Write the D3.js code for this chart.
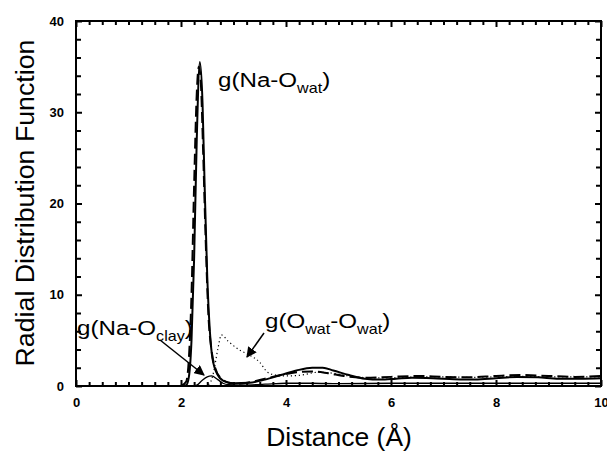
<!DOCTYPE html>
<html>
<head>
<meta charset="utf-8">
<script src="https://cdn.jsdelivr.net/npm/d3@7"></script>
<style>
  body { margin: 0; background: #fff; }
  text { font-family: "Liberation Sans", Arial, sans-serif; }
</style>
</head>
<body>
<svg id="chart" width="607" height="451"></svg>
<script>
// g(Na-O_wat), solid
const naOwat = [
  [2.0, 0], [2.1, 0.1], [2.15, 1], [2.2, 5], [2.25, 14], [2.3, 27], [2.36, 35.5],
  [2.41, 31], [2.45, 22], [2.5, 12], [2.55, 6], [2.6, 3], [2.7, 1.2], [2.8, 0.6],
  [3.0, 0.3], [3.3, 0.35], [3.6, 0.7], [3.9, 1.2], [4.2, 1.7], [4.5, 2.0], [4.7, 2.0],
  [4.9, 1.7], [5.2, 1.2], [5.5, 0.8], [5.8, 0.7], [6.1, 0.8], [6.4, 0.9], [6.8, 0.85],
  [7.2, 0.75], [7.6, 0.7], [8.0, 0.85], [8.4, 1.0], [8.8, 0.95], [9.2, 0.8], [9.6, 0.8], [10, 0.85]
];
// second run, long dashed
const naOwatDash = [
  [2.0, 0], [2.1, 0.5], [2.15, 3], [2.2, 10], [2.25, 22], [2.3, 32], [2.34, 35],
  [2.38, 33], [2.42, 26], [2.47, 16], [2.52, 8], [2.58, 4], [2.65, 2], [2.75, 0.9],
  [2.9, 0.4], [3.1, 0.25], [3.3, 0.4], [3.6, 0.8], [3.9, 1.2], [4.2, 1.5], [4.5, 1.6],
  [4.8, 1.4], [5.1, 1.1], [5.5, 0.9], [6.0, 1.0], [6.5, 1.1], [7.0, 1.0], [7.5, 0.95],
  [8.0, 1.1], [8.5, 1.2], [9.0, 1.1], [9.5, 1.0], [10, 1.1]
];
// g(Na-O_clay), thin solid
const naOclay = [
  [2.2, 0], [2.3, 0.1], [2.4, 0.6], [2.5, 1.0], [2.58, 1.1], [2.7, 0.7], [2.8, 0.3],
  [2.9, 0.15], [3.2, 0.1], [3.6, 0.2], [4.0, 0.3], [4.5, 0.3], [5.0, 0.25], [6.0, 0.3],
  [7.0, 0.3], [8.0, 0.3], [9.0, 0.3], [10, 0.3]
];
// g(O_wat-O_wat), dotted
const oOwat = [
  [2.45, 0], [2.55, 0.3], [2.62, 1.5], [2.7, 4], [2.77, 5.6], [2.9, 4.9], [3.1, 4.0],
  [3.3, 3.4], [3.5, 2.6], [3.65, 1.5], [3.8, 1.2], [4.0, 1.1], [4.3, 1.2], [4.6, 1.5],
  [4.9, 1.4], [5.2, 1.1], [5.6, 0.9], [6.0, 0.9], [6.5, 1.0], [7.0, 1.0], [7.5, 0.95],
  [8.0, 1.0], [8.5, 1.05], [9.0, 1.0], [9.5, 1.0], [10, 1.0]
];

const xTicks = [0, 2, 4, 6, 8, 10];
const yTicks = [0, 10, 20, 30, 40];

const svg = d3.select('#chart');
const mLeft = 76, mRight = 601, mTop = 21, mBottom = 386;

const x = d3.scaleLinear().domain([0, 10]).range([mLeft, mRight]);
const y = d3.scaleLinear().domain([0, 40]).range([mBottom, mTop]);

const xMinor = d3.range(0, 10.001, 0.25).filter(v => Math.abs(v / 2 - Math.round(v / 2)) > 1e-6);
const yMinor = d3.range(0, 40.001, 2).filter(v => v % 10 !== 0);

// curves
const line = d3.line().x(d => x(d[0])).y(d => y(d[1])).curve(d3.curveMonotoneX);

svg.append('path').datum(oOwat).attr('d', line)
  .attr('fill', 'none').attr('stroke', '#000').attr('stroke-width', 1.2)
  .attr('stroke-dasharray', '1.2,2.8');
svg.append('path').datum(naOclay).attr('d', line)
  .attr('fill', 'none').attr('stroke', '#000').attr('stroke-width', 1.3);
svg.append('path').datum(naOwatDash).attr('d', line)
  .attr('fill', 'none').attr('stroke', '#000').attr('stroke-width', 2)
  .attr('stroke-dasharray', '11,5');
svg.append('path').datum(naOwat).attr('d', line)
  .attr('fill', 'none').attr('stroke', '#000').attr('stroke-width', 2);

// axes box + inward ticks
function ticks(g, axis) {
  g.call(axis);
  g.select('.domain').remove();
  g.selectAll('line').attr('stroke', '#000').attr('stroke-width', 2);
}

svg.append('g').attr('transform', `translate(0,${mBottom})`)
  .call(g => ticks(g, d3.axisBottom(x).tickValues(xTicks).tickSize(-6).tickPadding(12).tickFormat(d3.format('d'))))
  .selectAll('text').attr('font-size', 13).attr('font-weight', 'bold').attr('fill', '#000');
svg.append('g').attr('transform', `translate(0,${mBottom})`)
  .call(g => ticks(g, d3.axisBottom(x).tickValues(xMinor).tickSize(-4).tickFormat('')));
svg.append('g').attr('transform', `translate(0,${mTop})`)
  .call(g => ticks(g, d3.axisTop(x).tickValues(xTicks).tickSize(-6).tickFormat('')));
svg.append('g').attr('transform', `translate(0,${mTop})`)
  .call(g => ticks(g, d3.axisTop(x).tickValues(xMinor).tickSize(-4).tickFormat('')));

svg.append('g').attr('transform', `translate(${mLeft},0)`)
  .call(g => ticks(g, d3.axisLeft(y).tickValues(yTicks).tickSize(-6).tickPadding(12)))
  .selectAll('text').attr('font-size', 13).attr('font-weight', 'bold').attr('fill', '#000');
svg.append('g').attr('transform', `translate(${mLeft},0)`)
  .call(g => ticks(g, d3.axisLeft(y).tickValues(yMinor).tickSize(-5).tickFormat('')));
svg.append('g').attr('transform', `translate(${mRight},0)`)
  .call(g => ticks(g, d3.axisRight(y).tickValues(yTicks).tickSize(-6).tickFormat('')));
svg.append('g').attr('transform', `translate(${mRight},0)`)
  .call(g => ticks(g, d3.axisRight(y).tickValues(yMinor).tickSize(-5).tickFormat('')));

svg.append('rect')
  .attr('x', mLeft).attr('y', mTop).attr('width', mRight - mLeft).attr('height', mBottom - mTop)
  .attr('fill', 'none').attr('stroke', '#000').attr('stroke-width', 2);

// axis titles
svg.append('text')
  .attr('transform', `translate(34,203) rotate(-90) scale(1.07,1)`)
  .attr('text-anchor', 'middle').attr('font-size', 25).text('Radial Distribution Function');
svg.append('text')
  .attr('transform', `translate(339,446) scale(1.06,1)`)
  .attr('text-anchor', 'middle').attr('font-size', 25).text('Distance (Å)');

// labels: pieces alternate normal / subscript
function label(px, py, parts) {
  const t = svg.append('text')
    .attr('transform', `translate(${px},${py}) scale(1.15,1)`)
    .attr('font-size', 21);
  parts.forEach((p, i) => {
    const sub = i % 2 === 1;
    t.append('tspan')
      .attr('font-size', sub ? 14 : 21)
      .attr('dy', i === 0 ? 0 : (sub ? 6 : -6))
      .text(p);
  });
}
label(218, 87, ['g(Na-O', 'wat', ')']);
label(77, 335, ['g(Na-O', 'clay', ')']);
label(265, 328, ['g(O', 'wat', '-O', 'wat', ')']);

// arrows
svg.append('defs').append('marker')
  .attr('id', 'head').attr('viewBox', '0 0 10 10').attr('refX', 9).attr('refY', 5)
  .attr('markerWidth', 7).attr('markerHeight', 7).attr('orient', 'auto')
  .append('path').attr('d', 'M0,0 L10,5 L0,10 z').attr('fill', '#000');
svg.append('line').attr('x1', 160).attr('y1', 340).attr('x2', 204).attr('y2', 375)
  .attr('stroke', '#000').attr('stroke-width', 1.5).attr('marker-end', 'url(#head)');
svg.append('line').attr('x1', 264).attr('y1', 333).attr('x2', 247).attr('y2', 357)
  .attr('stroke', '#000').attr('stroke-width', 1.5).attr('marker-end', 'url(#head)');
</script>
</body>
</html>
